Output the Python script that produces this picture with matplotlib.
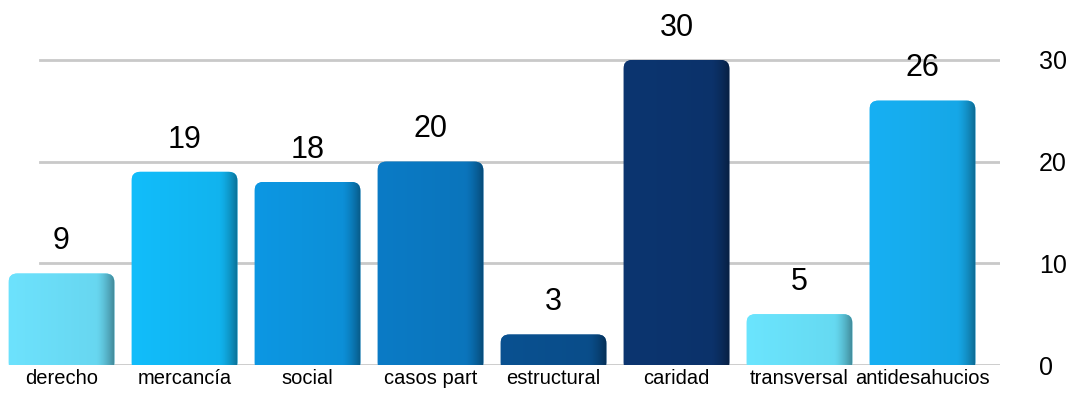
import numpy as np
import matplotlib.pyplot as plt
from matplotlib.patches import FancyBboxPatch
from matplotlib.colors import to_rgb

plt.rcParams['font.family'] = ['Liberation Sans', 'DejaVu Sans']

categorias = ['derecho', 'mercancía', 'social', 'casos part', 'estructural',
              'caridad', 'transversal', 'antidesahucios']
valores = [9, 19, 18, 20, 3, 30, 5, 26]
colores = ['#6de2fd', '#12bdfb', '#0d97e3', '#0b7bc6', '#0a5191',
           '#0c3570', '#6be5fe', '#17b0f3']
yticks = [0, 10, 20, 30]

fig = plt.figure(figsize=(10.66, 4.12), dpi=100)
ax = fig.add_axes([0.0, 0.114, 0.938, 0.886])
ax.set_xlim(-0.5, 7.63)
ax.set_ylim(0, 35.9)

for y in yticks:
    ax.axhline(y, color='#c9c9c9', lw=2, zorder=0, xmin=0.04)

x = np.arange(len(categorias))
bars = ax.bar(x, valores, width=0.86, color='none')

# pixels per data unit, used to keep rounded corners round
px_x = 1000 / 8.13
px_y = 365 / 35.9
t = np.linspace(0, 1, 200)
shade = 1.0 - 0.06 * t - 0.35 * np.clip((t - 0.82) / 0.18, 0, 1) ** 1.5
for b, c, v in zip(bars, colores, valores):
    x0, w, h = b.get_x(), b.get_width(), b.get_height()
    patch = FancyBboxPatch((x0, -0.6), w, h + 0.6,
                           boxstyle='round,pad=0,rounding_size=0.07',
                           mutation_aspect=px_x / px_y,
                           facecolor=c, edgecolor='none', zorder=2)
    ax.add_patch(patch)
    # horizontal shading to fake the 3d look
    base = np.array(to_rgb(c))
    img = np.clip(base[None, :] * shade[:, None], 0, 1)[None, :, :]
    im = ax.imshow(img, extent=(x0, x0 + w, -0.6, h), aspect='auto',
                   zorder=3, interpolation='bilinear')
    im.set_clip_path(patch)
    ax.text(b.get_x() + w / 2, h + 1.7, str(v), ha='center', va='bottom',
            fontsize=22, color='black', zorder=4)

ax.set_xticks(x)
ax.set_xticklabels(categorias, fontsize=14.5)
ax.tick_params(axis='x', length=0, pad=3)
ax.yaxis.tick_right()
ax.set_yticks(yticks)
ax.set_yticklabels([str(t) for t in yticks], fontsize=18)
ax.tick_params(axis='y', length=0, pad=28)
for s in ax.spines.values():
    s.set_visible(False)

fig.savefig('out.png', dpi=100)
